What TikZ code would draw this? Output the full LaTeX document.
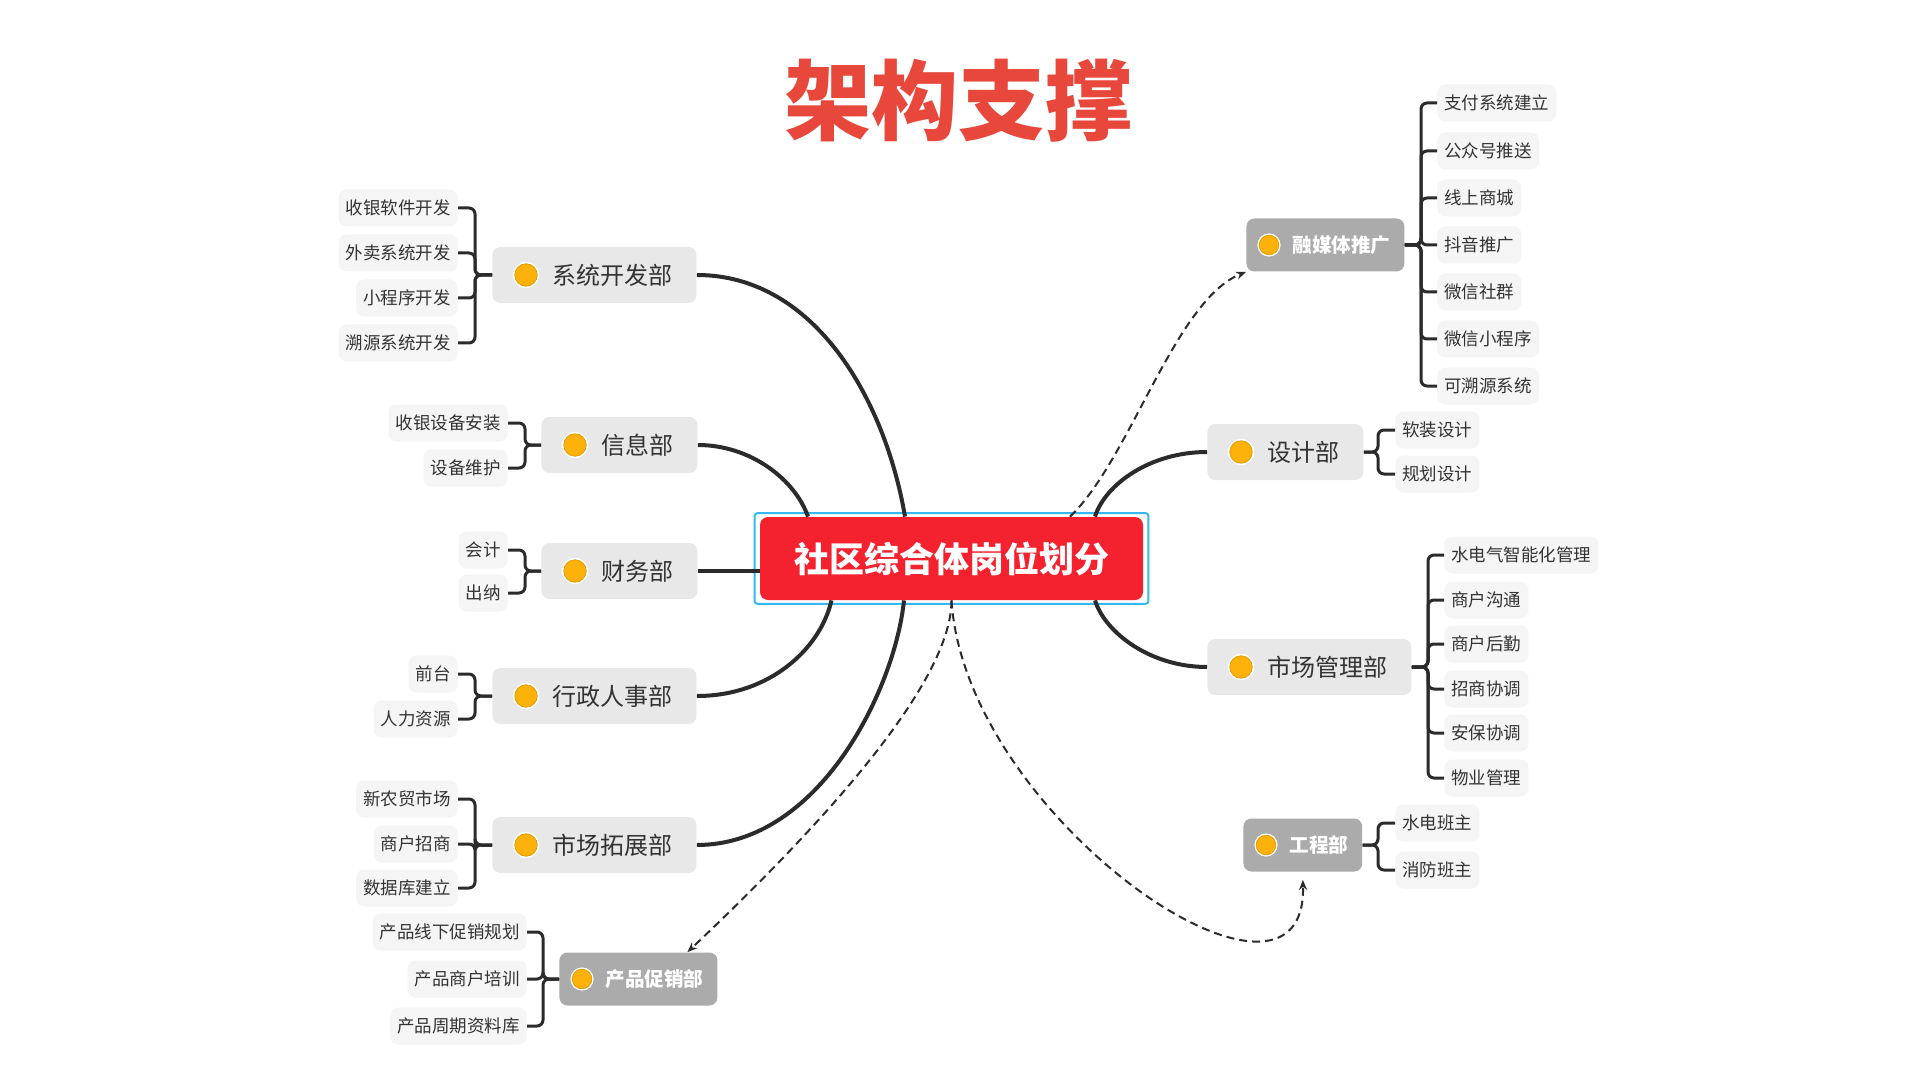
\documentclass[tikz,border=0pt]{standalone}
\usepackage{fontspec}
\newfontfamily\cjk{Noto Sans CJK SC}
\usetikzlibrary{arrows.meta}
\definecolor{titlec}{HTML}{E8473B}
\definecolor{ctrred}{HTML}{F4212F}
\definecolor{ctrblue}{HTML}{35B8F0}
\definecolor{deptc}{HTML}{E8E8E8}
\definecolor{greyc}{HTML}{ABABAB}
\definecolor{leafc}{HTML}{F5F5F5}
\definecolor{txtc}{HTML}{333333}
\definecolor{linec}{HTML}{2B2B2B}
\definecolor{dotc}{HTML}{FDB10B}
\definecolor{dotedge}{HTML}{E39C00}

\begin{document}
\begin{tikzpicture}[x=0.5pt,y=-0.5pt,
  dept/.style={fill=deptc,rounded corners=4pt,text=txtc,anchor=west,
    font=\cjk\fontsize{12pt}{14pt}\selectfont,minimum height=28pt,
    inner xsep=12pt,inner ysep=0pt,execute at begin node={\hspace*{18pt}}},
  grey/.style={fill=greyc,rounded corners=4pt,text=white,anchor=west,
    font=\cjk\bfseries\fontsize{9.8pt}{12pt}\selectfont,minimum height=26.5pt,
    inner xsep=7pt,inner ysep=0pt,execute at begin node={\hspace*{16pt}}},
  leaf/.style={fill=leafc,rounded corners=4pt,text=txtc,
    font=\cjk\fontsize{8.75pt}{10pt}\selectfont,minimum height=18.5pt,
    inner xsep=3.5pt,inner ysep=0pt},
  lnk/.style={draw=linec,line width=2pt},
  brk/.style={draw=linec,line width=1.5pt,rounded corners=3pt},
  dsh/.style={draw=linec,line width=1pt,dash pattern=on 4pt off 2.5pt,
    -{Stealth[length=5pt,width=4pt]}}]
\useasboundingbox (0,0) rectangle (1920,1080);
\fill[white] (0,0) rectangle (1920,1080);

\node[font=\cjk\bfseries\fontsize{43.5pt}{50pt}\selectfont,text=titlec] (ttl) at (958,101) {架构支撑};

\node[fill=ctrred,rounded corners=4pt,text=white,minimum width=191.5pt,minimum height=41.5pt,
  font=\cjk\bfseries\fontsize{17.5pt}{20pt}\selectfont] (ctr) at (951.5,558.5) {社区综合体岗位划分};
\draw[ctrblue,line width=1pt,rounded corners=1.5pt] ([shift={(-2.5pt,1.75pt)}]ctr.north west)
  rectangle ([shift={(2.5pt,-1.75pt)}]ctr.south east);

\node[dept] (xtkf) at (492,275) {系统开发部};
\node[dept] (xxb) at (541,445) {信息部};
\node[dept] (cwb) at (541,571) {财务部};
\node[dept] (xzrs) at (492,696) {行政人事部};
\node[dept] (sctz) at (492,845) {市场拓展部};
\node[grey] (cpcx) at (559,979) {产品促销部};
\node[grey] (rmt) at (1246,245) {融媒体推广};
\node[dept] (sjb) at (1207,452) {设计部};
\node[dept] (scgl) at (1207,667) {市场管理部};
\node[grey] (gcb) at (1243,845) {工程部};

\foreach \n in {xtkf,xxb,cwb,xzrs,sctz,sjb,scgl}
  {\fill[white] ([xshift=17pt]\n.west) circle (6.6pt);
   \filldraw[fill=dotc,draw=dotedge,line width=0.4pt] ([xshift=17pt]\n.west) circle (5.6pt);}
\foreach \n in {cpcx,rmt,gcb}
  {\fill[white] ([xshift=11.5pt]\n.west) circle (5.8pt);
   \filldraw[fill=dotc,draw=dotedge,line width=0.4pt] ([xshift=11.5pt]\n.west) circle (4.9pt);}

\foreach \y/\lbl [count=\i] in {208/收银软件开发,253/外卖系统开发,298/小程序开发,343/溯源系统开发}
  {\node[leaf,anchor=east] (xtkf\i) at (458,\y) {\lbl};
   \draw[brk] (xtkf\i.east) -- ++(8.5pt,0) |- (xtkf.west);}
\foreach \y/\lbl [count=\i] in {423/收银设备安装,468/设备维护}
  {\node[leaf,anchor=east] (xxb\i) at (508,\y) {\lbl};
   \draw[brk] (xxb\i.east) -- ++(8.5pt,0) |- (xxb.west);}
\foreach \y/\lbl [count=\i] in {550/会计,593/出纳}
  {\node[leaf,anchor=east] (cwb\i) at (508,\y) {\lbl};
   \draw[brk] (cwb\i.east) -- ++(8.5pt,0) |- (cwb.west);}
\foreach \y/\lbl [count=\i] in {674/前台,719/人力资源}
  {\node[leaf,anchor=east] (xzrs\i) at (458,\y) {\lbl};
   \draw[brk] (xzrs\i.east) -- ++(8.5pt,0) |- (xzrs.west);}
\foreach \y/\lbl [count=\i] in {799/新农贸市场,844/商户招商,888/数据库建立}
  {\node[leaf,anchor=east] (sctz\i) at (458,\y) {\lbl};
   \draw[brk] (sctz\i.east) -- ++(8.5pt,0) |- (sctz.west);}
\foreach \y/\lbl [count=\i] in {932/产品线下促销规划,979/产品商户培训,1026/产品周期资料库}
  {\node[leaf,anchor=east] (cpcx\i) at (527,\y) {\lbl};
   \draw[brk] (cpcx\i.east) -- ++(8pt,0) |- (cpcx.west);}
\foreach \y/\lbl [count=\i] in {103/支付系统建立,151/公众号推送,198/线上商城,245/抖音推广,292/微信社群,339/微信小程序,386/可溯源系统}
  {\node[leaf,anchor=west] (rmt\i) at (1437,\y) {\lbl};
   \draw[brk] (rmt\i.west) -- ++(-8pt,0) |- (rmt.east);}
\foreach \y/\lbl [count=\i] in {430/软装设计,474/规划设计}
  {\node[leaf,anchor=west] (sjb\i) at (1395,\y) {\lbl};
   \draw[brk] (sjb\i.west) -- ++(-8.5pt,0) |- (sjb.east);}
\foreach \y/\lbl [count=\i] in {555/水电气智能化管理,600/商户沟通,644/商户后勤,689/招商协调,733/安保协调,778/物业管理}
  {\node[leaf,anchor=west] (scgl\i) at (1444,\y) {\lbl};
   \draw[brk] (scgl\i.west) -- ++(-8pt,0) |- (scgl.east);}
\foreach \y/\lbl [count=\i] in {823/水电班主,870/消防班主}
  {\node[leaf,anchor=west] (gcb\i) at (1395,\y) {\lbl};
   \draw[brk] (gcb\i.west) -- ++(-8.5pt,0) |- (gcb.east);}

\draw[lnk] (xtkf.east) .. controls +(118,0) and +(-20,-117) .. ([xshift=-23.25pt]ctr.north);
\draw[lnk] (xxb.east) .. controls +(53,0) and +(-13,-37) .. ([xshift=-71.75pt]ctr.north);
\draw[lnk] (cwb.east) -- (cwb.east -| ctr.west);
\draw[lnk] (xzrs.east) .. controls +(73,0) and +(-11,48) .. ([xshift=-60pt]ctr.south);
\draw[lnk] (sctz.east) .. controls +(123,0) and +(-9,88) .. ([xshift=-23.75pt]ctr.south);
\draw[lnk] (sjb.west) .. controls +(-57,0) and +(10,-32) .. ([xshift=71.75pt]ctr.north);
\draw[lnk] (scgl.west) .. controls +(-57,0) and +(10,32) .. ([xshift=71.75pt]ctr.south);

\draw[dsh] ([xshift=59.25pt]ctr.north) .. controls +(60,-57) and +(-71,28.5) .. (rmt.south west);
\draw[dsh] (ctr.south) .. controls +(0,80) and +(143,-135) .. ([xshift=24.5pt]cpcx.north);
\draw[dsh] (ctr.south) .. controls +(14,220) and +(5,170) .. ([yshift=-4pt]gcb.south);
\end{tikzpicture}
\end{document}
